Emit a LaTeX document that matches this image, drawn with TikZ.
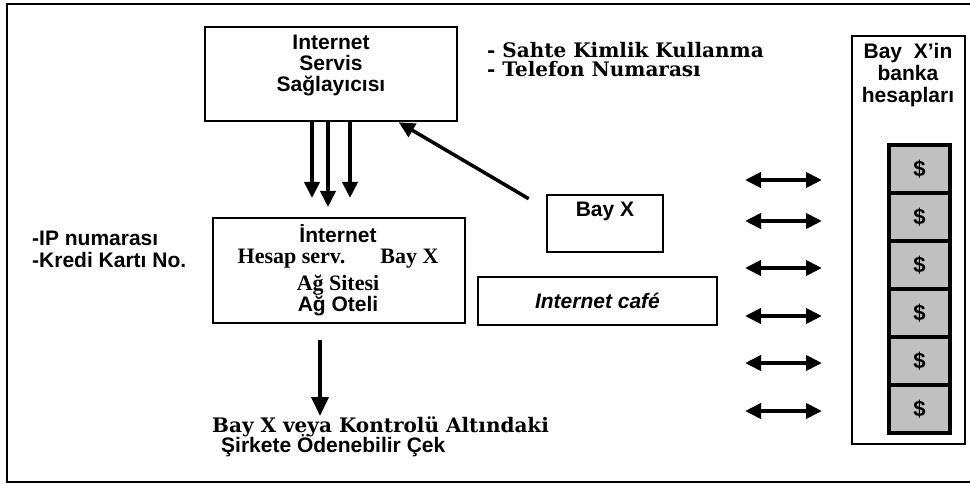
\documentclass[tikz,border=0pt]{standalone}
\usepackage{fontspec}
\setmainfont{Liberation Sans}
\newfontfamily\timesfont{Liberation Serif}
\newfontfamily\bookfont{DejaVu Serif}
\usetikzlibrary{arrows.meta,positioning,calc}
\definecolor{cellgray}{RGB}{192,192,192}
\tikzset{
  box/.style={draw, line width=2.6pt, inner sep=0pt},
  sans/.style={font=\fontsize{21}{21}\selectfont\bfseries, inner sep=0pt, align=center},
  times/.style={font=\fontsize{22}{22}\timesfont\bfseries, inner sep=0pt},
  book/.style={font=\fontsize{20}{19.5}\bookfont\bfseries, inner sep=0pt, align=left},
  fat/.style={line width=3.8pt, -{Triangle[width=15pt,length=16pt]}},
  both/.style={line width=3.8pt, {Triangle[width=15pt,length=16pt]}-{Triangle[width=15pt,length=16pt]}},
  cell/.style={draw, line width=3.5pt, fill=cellgray, minimum width=61pt, minimum height=48pt,
    inner sep=0pt, font=\fontsize{22}{22}\selectfont\bfseries}
}
\begin{document}
\begin{tikzpicture}[x=1pt, y=-1pt]
  \useasboundingbox (0,0) rectangle (970,484);
  % frame
  \draw[line width=2.5pt] (970,4) -- (7,4) -- (7,482) -- (970,482);

  % boxes
  \node (isp) [box, minimum width=252pt, minimum height=94pt] at (331,74) {};
  \node (ispt) [sans, anchor=north] at (331,35) {Internet\\Servis\\Sağlayıcısı};

  \node (net) [box, minimum width=252pt, minimum height=105pt] at (339,270.5) {};
  \node (net1) [sans, anchor=base] at (338,242) {İnternet};
  \node (net2) [times, anchor=base] at (291.5,263) {Hesap serv.};
  \node (net3) [times, anchor=base] at (409.5,263) {Bay X};
  \node (net4) [times, anchor=base] at (338,290) {Ağ Sitesi};
  \node (net5) [sans, anchor=base] at (338,311) {Ağ Oteli};

  \node (bayx) [box, minimum width=116pt, minimum height=57pt] at (605,223.5) {};
  \node (bayxt) [sans, anchor=base] at (605,217) {Bay X};

  \node (cafe) [box, minimum width=239pt, minimum height=48pt,
    font=\fontsize{21}{21}\selectfont\bfseries\itshape] at (597.5,301) {Internet café};

  \node (bank) [draw, line width=2pt, minimum width=113pt, minimum height=408pt, inner sep=0pt] at (908.5,240) {};
  \node (bankt) [sans, font=\fontsize{21}{22}\selectfont\bfseries, anchor=north] at (908,43) {Bay\ \ X’in\\banka\\hesapları};
  \foreach \i in {0,...,5}
    \node (cell\i) [cell] at (919.5,{169+48*\i}) {\$};

  % texts
  \node (kimlik) [book, anchor=north west] at (487,42) {- Sahte Kimlik Kullanma\\- Telefon Numarası};
  \node (ipno) [sans, font=\fontsize{21}{22}\selectfont\bfseries, align=left, anchor=north west] at (32,231) {-IP numarası\\-Kredi Kartı No.};
  \node (cek1) [book, anchor=base west] at (212,432) {Bay X veya Kontrolü Altındaki};
  \node (cek2) [sans, anchor=base west] at (221,452) {Şirkete Ödenebilir Çek};

  % arrows
  \coordinate (d1) at (312,198);
  \coordinate (d2) at (328,207);
  \coordinate (d3) at (350,198);
  \foreach \d in {d1,d2,d3}
    \draw[fat] (\d |- isp.south) -- (\d);
  \coordinate (bxtail) at ($(bayx.north west)+(-17,5)$);
  \draw[fat, line width=3.5pt] (bxtail) -- ($(isp.south west)!0.766!(isp.south east)$);
  \coordinate (ck) at (320,340);
  \draw[fat, -{Triangle[width=17pt,length=19pt]}] (ck) -- (ck |- cek1.north);
  \foreach \y [count=\i] in {180,221,268,316,363,411} {
    \coordinate (l\i) at (745,\y);
    \coordinate (r\i) at (822,\y);
    \draw[both] (l\i) -- (r\i);
  }
\end{tikzpicture}
\end{document}
